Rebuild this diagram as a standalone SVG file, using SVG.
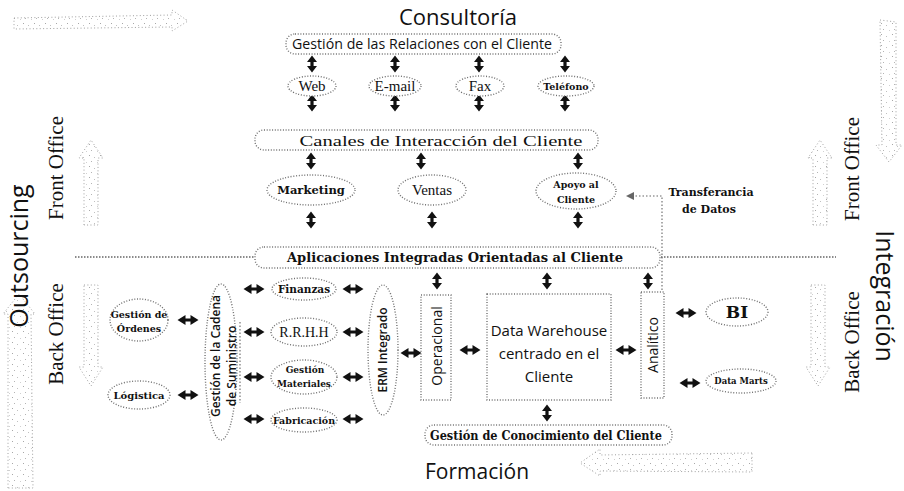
<svg xmlns="http://www.w3.org/2000/svg" width="904" height="491" viewBox="0 0 904 491">
  <style>
    .nd { fill: #fff; stroke: #707070; stroke-width: 1.4; stroke-dasharray: 1 1.7; }
    .big { fill: url(#grain); stroke: #a0a0a0; stroke-width: 1; stroke-dasharray: 1 2.4; }
    .sep { fill: none; stroke: #666; stroke-width: 1.3; stroke-dasharray: 1.5 1.5; }
    .lnk { fill: none; stroke: #666; stroke-width: 1.1; stroke-dasharray: 1.5 2; }
    .sans { font-family: "Open Sans", "Noto Sans", sans-serif; fill: #111; }
    .ser { font-family: "Liberation Serif", "DejaVu Serif", serif; fill: #111; }
    .bs { font-family: "DejaVu Serif", "Liberation Serif", serif; font-weight: bold; fill: #111; }
    .arr { fill: #111; }
  </style>
  <defs>
    <pattern id="grain" width="11" height="11" patternUnits="userSpaceOnUse">
      <rect x="1" y="1" width="1" height="1" fill="#a8a8a8"/>
      <rect x="6" y="3" width="1" height="1" fill="#c0c0c0"/>
      <rect x="3" y="7" width="1" height="1" fill="#b4b4b4"/>
      <rect x="9" y="8" width="1" height="1" fill="#d0d0d0"/>
    </pattern>
    <!-- vertical double arrow -->
    <path id="vd" class="arr" d="M0,-8.5 L5,-2 L1.6,-2 L1.6,2 L5,2 L0,8.5 L-5,2 L-1.6,2 L-1.6,-2 L-5,-2Z"/>
    <!-- horizontal double arrow -->
    <path id="hd" class="arr" d="M-10.5,0 L-2.5,-5 L-2.5,-1.6 L2.5,-1.6 L2.5,-5 L10.5,0 L2.5,5 L2.5,1.6 L-2.5,1.6 L-2.5,5Z"/>
  </defs>

  <rect width="904" height="491" fill="#fff"/>

  <!-- outer cycle arrows -->
  <g id="cycle">
    <path class="big" d="M14,18 L172,15 L172,10 L188,21 L172,31 L172,27 L14,29Z"/>
    <path class="big" d="M880,20 L896,22 L896,145 L902,145 L889,162 L876,145 L882,145Z"/>
    <path class="big" d="M752,453 L600,455 L600,449 L580,463 L600,476 L600,471 L752,472Z"/>
    <path class="big" d="M8,488 L8,314 L3,314 L19,294 L35,314 L31,314 L33,488Z"/>
  </g>

  <!-- side labels -->
  <g id="side-labels">
    <text class="sans" font-size="25" text-anchor="middle" transform="translate(28,256) rotate(-90)">Outsourcing</text>
    <text class="ser" font-size="21" text-anchor="middle" transform="translate(63,168) rotate(-90)">Front Office</text>
    <text class="ser" font-size="21" text-anchor="middle" transform="translate(63,334) rotate(-90)">Back Office</text>
    <text class="ser" font-size="21" text-anchor="middle" transform="translate(859,169) rotate(-90)">Front Office</text>
    <text class="ser" font-size="21" text-anchor="middle" transform="translate(859,342) rotate(-90)">Back Office</text>
    <text class="sans" font-size="25" text-anchor="middle" transform="translate(876,296) rotate(90)">Integración</text>
    <text class="sans" font-size="22" text-anchor="middle" x="458" y="25">Consultoría</text>
    <text class="sans" font-size="21" text-anchor="middle" x="477" y="479">Formación</text>
  </g>

  <!-- front / back office arrows -->
  <g id="office-arrows">
    <path class="big" d="M84,225 L84,158 L79,158 L91,140 L103,158 L98,158 L98,225Z"/>
    <path class="big" d="M84,285 L98,285 L98,367 L103,367 L91,386 L79,367 L84,367Z"/>
    <path class="big" d="M813,225 L813,158 L808,158 L820,140 L832,158 L827,158 L827,225Z"/>
    <path class="big" d="M811,285 L825,285 L825,367 L830,367 L818,386 L806,367 L811,367Z"/>
  </g>

  <!-- front / back separator -->
  <g id="separator">
    <line class="sep" x1="75" y1="257" x2="254" y2="257"/>
    <line class="sep" x1="661" y1="257" x2="836" y2="257"/>
  </g>

  <!-- connectors -->
  <g id="connectors">
    <use href="#vd" x="312" y="64"/>
    <use href="#vd" x="395" y="64"/>
    <use href="#vd" x="479" y="64"/>
    <use href="#vd" x="565" y="64"/>
    <use href="#vd" x="312" y="103"/>
    <use href="#vd" x="395" y="103"/>
    <use href="#vd" x="479" y="103"/>
    <use href="#vd" x="565" y="103"/>
    <use href="#vd" x="311" y="161"/>
    <use href="#vd" x="421" y="161"/>
    <use href="#vd" x="578" y="161"/>
    <use href="#vd" x="311" y="220"/>
    <use href="#vd" x="432" y="220"/>
    <use href="#vd" x="578" y="220"/>
    <use href="#vd" x="437" y="281"/>
    <use href="#vd" x="547" y="281"/>
    <use href="#vd" x="648" y="281"/>
    <use href="#vd" x="547" y="413"/>
    <use href="#hd" x="188" y="320"/>
    <use href="#hd" x="188" y="395"/>
    <use href="#hd" x="254" y="289"/>
    <use href="#hd" x="254" y="332"/>
    <use href="#hd" x="254" y="377"/>
    <use href="#hd" x="254" y="419"/>
    <use href="#hd" x="353" y="289"/>
    <use href="#hd" x="353" y="332"/>
    <use href="#hd" x="353" y="377"/>
    <use href="#hd" x="353" y="419"/>
    <use href="#hd" x="411" y="353"/>
    <use href="#hd" x="470" y="350"/>
    <use href="#hd" x="626" y="350"/>
    <use href="#hd" x="686" y="313"/>
    <use href="#hd" x="690" y="383"/>
    <line class="lnk" x1="240" y1="322" x2="240" y2="403"/>
    <!-- data transfer link -->
    <path class="lnk" d="M662,290 L662,196 L632,196"/>
    <path d="M626,196 L634,192 L634,200Z" fill="#666"/>
  </g>

  <!-- front office nodes -->
  <g id="crm">
    <rect class="nd" x="286" y="34" width="275" height="20" rx="9"/>
    <text class="sans" font-size="15" text-anchor="middle" x="422" y="49" textLength="260" lengthAdjust="spacingAndGlyphs">Gestión de las Relaciones con el Cliente</text>
  </g>
  <g id="web">
    <ellipse class="nd" cx="312" cy="86" rx="24" ry="10"/>
    <text class="ser" font-size="15" text-anchor="middle" x="312" y="91">Web</text>
  </g>
  <g id="email">
    <ellipse class="nd" cx="395" cy="86" rx="26" ry="10"/>
    <text class="ser" font-size="15" text-anchor="middle" x="395" y="91">E-mail</text>
  </g>
  <g id="fax">
    <ellipse class="nd" cx="480" cy="86" rx="24" ry="10"/>
    <text class="ser" font-size="15" text-anchor="middle" x="480" y="91">Fax</text>
  </g>
  <g id="telefono">
    <ellipse class="nd" cx="566" cy="86" rx="28" ry="10"/>
    <text class="bs" font-size="9.5" text-anchor="middle" x="566" y="90">Teléfono</text>
  </g>
  <g id="canales">
    <rect class="nd" x="255" y="130" width="343" height="20" rx="9"/>
    <text class="ser" font-size="15" text-anchor="middle" x="441" y="146" textLength="283" lengthAdjust="spacingAndGlyphs">Canales de Interacción del Cliente</text>
  </g>
  <g id="marketing">
    <ellipse class="nd" cx="311" cy="190" rx="44" ry="15"/>
    <text class="bs" font-size="11.5" text-anchor="middle" x="311" y="194">Marketing</text>
  </g>
  <g id="ventas">
    <ellipse class="nd" cx="432" cy="190" rx="34" ry="15"/>
    <text class="ser" font-size="15" text-anchor="middle" x="432" y="195">Ventas</text>
  </g>
  <g id="apoyo">
    <ellipse class="nd" cx="576" cy="191" rx="40" ry="18"/>
    <text class="bs" font-size="9.5" text-anchor="middle" x="576" y="188">Apoyo al</text>
    <text class="bs" font-size="9.5" text-anchor="middle" x="576" y="203">Cliente</text>
  </g>
  <g id="transferencia">
    <text class="bs" font-size="11" text-anchor="middle" x="711" y="196">Transferancia</text>
    <text class="bs" font-size="11" text-anchor="middle" x="709" y="213">de Datos</text>
  </g>
  <g id="aplicaciones">
    <rect class="nd" x="255" y="247" width="405" height="21" rx="9"/>
    <text class="bs" font-size="12.5" text-anchor="middle" x="455" y="262" textLength="336" lengthAdjust="spacingAndGlyphs">Aplicaciones Integradas Orientadas al Cliente</text>
  </g>

  <!-- back office nodes -->
  <g id="ordenes">
    <ellipse class="nd" cx="139" cy="320" rx="29" ry="21"/>
    <text class="bs" font-size="9.5" text-anchor="middle" x="139" y="318">Gestión de</text>
    <text class="bs" font-size="9.5" text-anchor="middle" x="139" y="332">Órdenes</text>
  </g>
  <g id="logistica">
    <ellipse class="nd" cx="139" cy="395" rx="31" ry="14"/>
    <text class="bs" font-size="10" text-anchor="middle" x="139" y="399">Lógistica</text>
  </g>
  <g id="cadena">
    <ellipse class="nd" cx="221" cy="362" rx="16" ry="78"/>
    <text class="sans" font-size="12" font-weight="600" text-anchor="middle" transform="translate(220,356) rotate(-90)">Gestión de la Cadena</text>
    <text class="sans" font-size="12" font-weight="600" text-anchor="middle" transform="translate(236,366) rotate(-90)">de Suministro</text>
  </g>
  <g id="finanzas">
    <ellipse class="nd" cx="304" cy="289" rx="32" ry="11"/>
    <text class="bs" font-size="10.5" text-anchor="middle" x="304" y="293">Finanzas</text>
  </g>
  <g id="rrhh">
    <ellipse class="nd" cx="304" cy="332" rx="33" ry="14"/>
    <text class="ser" font-size="14" text-anchor="middle" x="304" y="337">R.R.H.H</text>
  </g>
  <g id="materiales">
    <ellipse class="nd" cx="304" cy="377" rx="33" ry="17"/>
    <text class="bs" font-size="9" text-anchor="middle" x="305" y="373">Gestión</text>
    <text class="bs" font-size="9" text-anchor="middle" x="304" y="387">Materiales</text>
  </g>
  <g id="fabricacion">
    <ellipse class="nd" cx="304" cy="420" rx="33" ry="12"/>
    <text class="bs" font-size="9.5" text-anchor="middle" x="304" y="424">Fabricación</text>
  </g>
  <g id="erm">
    <ellipse class="nd" cx="383" cy="350" rx="15" ry="65"/>
    <text class="sans" font-size="12" font-weight="600" text-anchor="middle" transform="translate(387,350) rotate(-90)">ERM Integrado</text>
  </g>
  <g id="operacional">
    <rect class="nd" x="421" y="295" width="30" height="105"/>
    <text class="sans" font-size="14" text-anchor="middle" transform="translate(442,346) rotate(-90)">Operacional</text>
  </g>
  <g id="datawarehouse">
    <rect class="nd" x="487" y="294" width="124" height="106"/>
    <text class="sans" font-size="15" text-anchor="middle" x="549" y="336">Data Warehouse</text>
    <text class="sans" font-size="15" text-anchor="middle" x="549" y="359">centrado en el</text>
    <text class="sans" font-size="15" text-anchor="middle" x="549" y="382">Cliente</text>
  </g>
  <g id="analitico">
    <rect class="nd" x="641" y="292" width="23" height="106"/>
    <text class="sans" font-size="14" text-anchor="middle" transform="translate(658,345) rotate(-90)">Analítico</text>
  </g>
  <g id="bi">
    <ellipse class="nd" cx="737" cy="312" rx="31" ry="14"/>
    <text class="bs" font-size="17" text-anchor="middle" x="737" y="318">BI</text>
  </g>
  <g id="datamarts">
    <ellipse class="nd" cx="741" cy="381" rx="35" ry="12"/>
    <text class="bs" font-size="8.5" text-anchor="middle" x="741" y="384">Data Marts</text>
  </g>
  <g id="conocimiento">
    <rect class="nd" x="425" y="425" width="247" height="20" rx="9"/>
    <text class="bs" font-size="12.5" text-anchor="middle" x="546" y="440" textLength="232" lengthAdjust="spacingAndGlyphs">Gestión de Conocimiento del Cliente</text>
  </g>
</svg>
